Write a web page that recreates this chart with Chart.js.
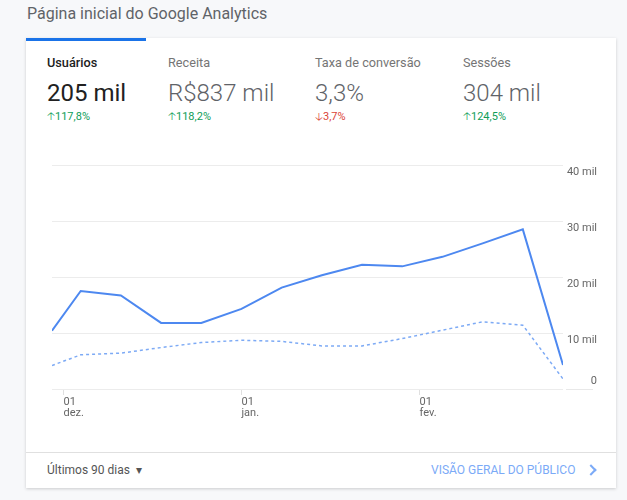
<!DOCTYPE html>
<html lang="pt">
<head>
<meta charset="UTF-8" />
<script src="https://cdn.jsdelivr.net/npm/chart.js@4/dist/chart.umd.min.js"></script>
<title>Página inicial do Google Analytics</title>
<style>
  body { margin: 0; width: 627px; height: 500px; background: #f7f8fa; font-family: Roboto, sans-serif; position: relative; overflow: hidden; }
  .title { position: absolute; left: 27px; top: 4px; font-size: 16px; color: #5f6368; }
  .card { position: absolute; left: 26px; top: 38px; width: 590px; height: 450px; background: #fff; box-shadow: 0 1px 3px rgba(0,0,0,0.18); }
  .tab { position: absolute; left: 0; top: 0; width: 120px; height: 3px; background: #1a73e8; }
  .metric { position: absolute; top: 17px; }
  .metric .lbl { font-size: 12.7px; color: #757575; }
  .metric .val { font-size: 24px; color: #5f6368; margin-top: 9px; font-weight: 300; }
  .metric .chg { font-size: 11px; margin-top: 1px; }
  .up { color: #0f9d58; }
  .down { color: #db4437; }
  .sel .lbl { color: #212121; font-weight: 500; }
  .sel .val { color: #212121; font-weight: 400; }
  .foot { position: absolute; left: 0; top: 414px; width: 590px; border-top: 1px solid #e0e0e0; height: 36px; }
  .range { position: absolute; left: 21px; top: 10px; font-size: 12px; color: #555; }
  .link { position: absolute; left: 405px; top: 10px; font-size: 12px; color: #7baaf7; }
  .chev { position: absolute; left: 561px; top: 13px; width: 6px; height: 6px; border-top: 2px solid #7baaf7; border-right: 2px solid #7baaf7; transform: rotate(45deg); }
  #chart { position: absolute; left: 40px; top: 150px; }
</style>
</head>
<body>
<div class="title">Página inicial do Google Analytics</div>
<div class="card">
  <div class="tab"></div>
  <div class="metric sel" style="left:21px"><div class="lbl">Usuários</div><div class="val">205 mil</div><div class="chg up">&#x1F861;117,8%</div></div>
  <div class="metric" style="left:142px"><div class="lbl">Receita</div><div class="val">R$837 mil</div><div class="chg up">&#x1F861;118,2%</div></div>
  <div class="metric" style="left:289px"><div class="lbl">Taxa de conversão</div><div class="val">3,3%</div><div class="chg down">&#x1F863;3,7%</div></div>
  <div class="metric" style="left:437px"><div class="lbl">Sessões</div><div class="val">304 mil</div><div class="chg up">&#x1F861;124,5%</div></div>
  <div class="foot">
    <div class="range">Últimos 90 dias &nbsp;&#9662;</div>
    <div class="link">VISÃO GERAL DO PÚBLICO</div>
    <div class="chev"></div>
  </div>
</div>
<canvas id="chart" width="565" height="280"></canvas>
<script>
  // days counted from 01 dez.
  const days = [-2, 3, 10, 17, 24, 31, 38, 45, 52, 59, 66, 73, 80, 87];
  const usuarios = [10400, 17500, 16700, 11800, 11800, 14300, 18100, 20300, 22200, 21900, 23600, 26000, 28500, 4300];
  const periodoAnterior = [4200, 6100, 6400, 7400, 8300, 8700, 8500, 7700, 7700, 9000, 10500, 12000, 11400, 1800];
  const tickDays = [0, 31, 62];
  const tickLabels = [["01", "dez."], ["01", "jan."], ["01", "fev."]];
  const yTicks = [0, 10000, 20000, 30000, 40000];
  const yLabels = ["0", "10 mil", "20 mil", "30 mil", "40 mil"];

  const toPoints = arr => arr.map((v, i) => ({ x: days[i], y: v }));

  const yLabelPlugin = {
    id: "yLabels",
    afterDraw(chart) {
      const ctx = chart.ctx;
      const y = chart.scales.y;
      const area = chart.chartArea;
      ctx.save();
      ctx.font = "11px Roboto";
      ctx.fillStyle = "#666";
      ctx.textAlign = "right";
      ctx.textBaseline = "middle";
      yTicks.forEach((v, i) => {
        const py = y.getPixelForValue(v);
        ctx.fillText(yLabels[i], area.right + 34, v === 0 ? py - 8 : py + 7);
      });
      const p0 = y.getPixelForValue(0);
      ctx.strokeStyle = "#e8e8e8";
      ctx.lineWidth = 1;
      ctx.beginPath();
      ctx.moveTo(area.right + 3, p0 + 0.5);
      ctx.lineTo(area.right + 30, p0 + 0.5);
      ctx.stroke();
      ctx.restore();
    }
  };

  new Chart(document.getElementById("chart"), {
    type: "line",
    data: {
      datasets: [
        {
          data: toPoints(usuarios),
          borderColor: "#4d88f0",
          borderWidth: 2,
          pointRadius: 0,
          tension: 0
        },
        {
          data: toPoints(periodoAnterior),
          borderColor: "#7daaf5",
          borderWidth: 1.5,
          borderDash: [3, 3],
          pointRadius: 0,
          tension: 0
        }
      ]
    },
    options: {
      responsive: false,
      animation: false,
      layout: { padding: { left: 12, top: 15, right: 0, bottom: 0 } },
      plugins: { legend: { display: false }, tooltip: { enabled: false } },
      scales: {
        x: {
          type: "linear",
          min: -2,
          max: 87,
          afterBuildTicks: scale => { scale.ticks = tickDays.map(v => ({ value: v })); },
          afterFit: scale => { scale.height = 41; },
          border: { display: false },
          grid: { drawOnChartArea: false, drawTicks: true, tickLength: 6, color: "#e0e0e0" },
          ticks: {
            align: "start",
            maxRotation: 0,
            padding: 1,
            color: "#666",
            font: { family: "Roboto", size: 11, lineHeight: 1.05 },
            callback: (value) => tickLabels[tickDays.indexOf(value)]
          }
        },
        y: {
          position: "right",
          min: 0,
          max: 40000,
          afterBuildTicks: scale => { scale.ticks = yTicks.map(v => ({ value: v })); },
          afterFit: scale => { scale.width = 42; },
          border: { display: false },
          grid: { drawTicks: false, color: "#ececec" },
          ticks: { display: false }
        }
      }
    },
    plugins: [yLabelPlugin]
  });
</script>
</body>
</html>
